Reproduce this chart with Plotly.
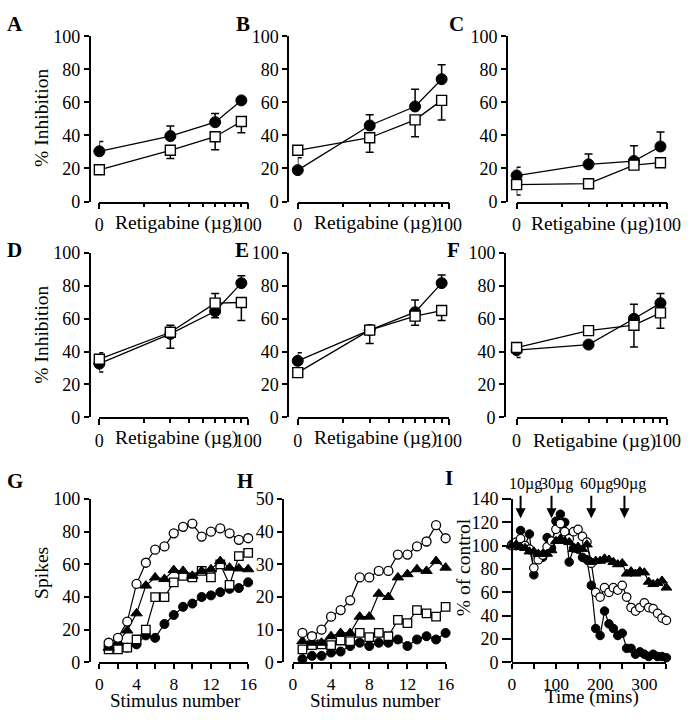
import plotly.graph_objects as go

W, H = 695, 720
FONT = "Liberation Serif"

# ---------------- data ----------------
doses = [10, 30, 60, 90]          # retigabine doses (µg); first point sits at the "0" tick
dose_tickvals = [10, 100]
dose_ticktext = ["0", "100"]
dose_minor = [20, 30, 40, 50, 60, 70, 80, 90]
inhib_ticks = [0, 20, 40, 60, 80, 100]

A_filled = [30.4, 39.6, 48.0, 61.2]
A_filled_up = [5.9, 6.1, 5.3, 0.8]
A_filled_dn = [0, 0, 0, 0]
A_open = [19.2, 31.0, 39.2, 48.4]
A_open_up = [0, 0, 0, 0]
A_open_dn = [0, 5.0, 7.8, 6.8]

B_filled = [19.0, 46.0, 57.5, 74.0]
B_filled_up = [7.5, 6.5, 10.5, 8.7]
B_filled_dn = [0, 0, 0, 0]
B_open = [31.0, 38.6, 49.4, 61.2]
B_open_up = [0, 0, 0, 0]
B_open_dn = [0, 8.8, 10.2, 11.8]

C_filled = [15.7, 22.5, 24.5, 33.3]
C_filled_up = [5.0, 6.3, 9.2, 8.7]
C_filled_dn = [0, 0, 0, 0]
C_open = [10.2, 10.8, 22.0, 23.5]
C_open_up = [0, 0, 0, 0]
C_open_dn = [6.2, 0, 0, 0]

D_filled = [32.7, 50.8, 64.6, 81.7]
D_filled_up = [0, 0, 0, 4.5]
D_filled_dn = [5.1, 8.8, 4.0, 0]
D_open = [35.4, 51.8, 69.5, 69.9]
D_open_up = [4.0, 4.3, 5.9, 0]
D_open_dn = [0, 0, 0, 10.9]

E_filled = [34.4, 53.1, 64.0, 81.7]
E_filled_up = [5.0, 0, 7.5, 4.9]
E_filled_dn = [0, 0, 0, 0]
E_open = [27.2, 53.1, 61.6, 65.0]
E_open_up = [0, 3.0, 0, 0]
E_open_dn = [0, 8.2, 5.5, 6.0]

F_filled = [40.9, 44.3, 60.0, 69.5]
F_filled_up = [0, 0, 8.9, 5.9]
F_filled_dn = [4.5, 0, 0, 0]
F_open = [42.5, 52.8, 56.1, 63.6]
F_open_up = [0, 0, 0, 0]
F_open_dn = [0, 0, 13.2, 9.3]

stimulus = list(range(1, 17))
stim_tickvals = [0, 2, 4, 6, 8, 10, 12, 14, 16]
stim_ticktext = ["0", "", "4", "", "8", "", "12", "", "16"]

G_open_circle = [12, 15, 25, 48, 61, 69, 71, 79, 83, 85, 77, 80, 82, 79, 75, 76]
G_triangle = [9, 12.5, 19.5, 30, 47, 52, 51, 56.5, 56, 53, 56, 57, 62, 58, 57.5, 57]
G_open_square = [8, 8, 9, 14, 20, 40, 40, 49, 53, 52, 56, 52, 60, 47.5, 65, 67]
G_filled_circle = [10, 10, 9, 11, 16.5, 15, 23.5, 29, 34, 36, 40, 41, 43, 45, 45.5, 49]
G_yticks = [0, 20, 40, 60, 80, 100]

H_open_circle = [9, 8, 10, 14, 16, 19, 26, 26, 28, 28, 33, 33, 35.5, 37, 42, 38]
H_triangle = [6.5, 6, 6, 8, 9, 9, 14, 14, 21, 20, 26, 27, 28.5, 28, 31, 29]
H_open_square = [4, 5.3, 5.5, 5.3, 6.7, 6.5, 9, 7.7, 9, 8, 13, 12, 16, 15, 14, 17]
H_filled_circle = [1, 2, 2, 3, 3.3, 5, 6, 5, 6, 6, 7, 5, 7, 8, 7, 9]
H_yticks = [0, 10, 20, 30, 40, 50]

time_mins = list(range(0, 351, 10))
I_filled_circle = [101, 100, 113, 100, 110, 75, 90, 90, 107, 98, 121, 127, 120, 86, 98, 97,
                   90, 88, 66, 29, 23, 44, 33, 29, 23, 25, 12, 12, 7, 9, 7, 5, 7, 5, 5, 4]
I_open_circle = [100, 103, 106, 100, 97, 81, 88, 92, 99, 104, 114, 119, 112, 106, 112, 114,
                 108, 103, 85, 60, 56, 64, 60, 64, 62, 66, 56, 47, 44, 47, 51, 47, 46, 42, 38, 36]
I_triangle = [100, 101, 99, 98, 95, 95, 93, 93, 93, 96, 104, 106, 104, 103, 97, 99,
              97, 101, 86, 87, 87, 89, 88, 86, 84, 85, 76, 78, 76, 78, 77, 69, 67, 68, 70, 64]
I_yticks = [0, 20, 40, 60, 80, 100, 120, 140]
I_xtickvals = [0, 50, 100, 150, 200, 250, 300, 350]
I_xticktext = ["0", "", "100", "", "200", "", "300", ""]
I_dose_times = [20, 90, 180, 255]
I_dose_labels = ["10µg", "30µg", "60µg", "90µg"]

# ---------------- helpers ----------------
def fx(px):
    return px / W

def fy(py):
    return 1 - py / H

fig = go.Figure()
layout = dict(
    width=W, height=H, margin=dict(l=0, r=0, t=0, b=0),
    paper_bgcolor="white", plot_bgcolor="white", showlegend=False,
    font=dict(family=FONT, size=18, color="black"),
)
annotations = []

def add_axes(i, yaxis_px, x0_px, x1_px, ytop_px, ybot_px, xaxis_extra, yaxis_extra):
    xa = dict(domain=[fx(x0_px), fx(x1_px)], anchor="y%d" % i if i > 1 else "y",
              showline=True, linewidth=1.5, linecolor="black", ticks="outside",
              ticklen=6, tickwidth=1.5, tickcolor="black", showgrid=False,
              zeroline=False, tickfont=dict(family=FONT, size=18, color="black"))
    xa.update(xaxis_extra)
    ya = dict(domain=[fy(ybot_px), fy(ytop_px)], anchor="free", position=fx(yaxis_px),
              showline=True, linewidth=1.5, linecolor="black", ticks="outside",
              ticklen=5, tickwidth=1.5, tickcolor="black", showgrid=False,
              zeroline=False, tickfont=dict(family=FONT, size=18, color="black"))
    ya.update(yaxis_extra)
    sfx = "" if i == 1 else str(i)
    layout["xaxis" + sfx] = xa
    layout["yaxis" + sfx] = ya

def ref(i):
    return ("x", "y") if i == 1 else ("x%d" % i, "y%d" % i)

def dose_panel(i, filled, f_up, f_dn, opn, o_up, o_dn):
    xr, yr = ref(i)
    fig.add_trace(go.Scatter(
        x=doses, y=filled, xaxis=xr, yaxis=yr, mode="lines+markers", cliponaxis=False,
        line=dict(color="black", width=1.3),
        marker=dict(symbol="circle", size=11, color="black", line=dict(color="black", width=1)),
        error_y=dict(type="data", symmetric=False, array=f_up, arrayminus=f_dn,
                     color="black", thickness=1.5, width=4)))
    fig.add_trace(go.Scatter(
        x=doses, y=opn, xaxis=xr, yaxis=yr, mode="lines+markers", cliponaxis=False,
        line=dict(color="black", width=1.3),
        marker=dict(symbol="square", size=10, color="white", line=dict(color="black", width=1.4)),
        error_y=dict(type="data", symmetric=False, array=o_up, arrayminus=o_dn,
                     color="black", thickness=1.5, width=4)))

dose_x = dict(type="log", range=[1, 2], tickvals=dose_tickvals, ticktext=dose_ticktext,
              minor=dict(tickvals=dose_minor, ticks="outside", ticklen=4, tickwidth=1.5,
                         tickcolor="black"))
dose_y = dict(range=[0, 100], tickvals=inhib_ticks)

# rows: (ytop, ybot)
row1 = (27, 197)
row2 = (250, 419)
row3 = (503, 671)

panels = [
    (1, 87, 97, 250, row1, A_filled, A_filled_up, A_filled_dn, A_open, A_open_up, A_open_dn),
    (2, 291, 301, 456, row1, B_filled, B_filled_up, B_filled_dn, B_open, B_open_up, B_open_dn),
    (3, 516, 526, 681, row1, C_filled, C_filled_up, C_filled_dn, C_open, C_open_up, C_open_dn),
    (4, 87, 97, 250, row2, D_filled, D_filled_up, D_filled_dn, D_open, D_open_up, D_open_dn),
    (5, 291, 301, 456, row2, E_filled, E_filled_up, E_filled_dn, E_open, E_open_up, E_open_dn),
    (6, 514, 526, 681, row2, F_filled, F_filled_up, F_filled_dn, F_open, F_open_up, F_open_dn),
]
for (i, yax, x0, x1, (yt, yb), fl, fu, fd, op, ou, od) in panels:
    add_axes(i, yax, x0, x1, yt, yb, dose_x, dose_y)
    dose_panel(i, fl, fu, fd, op, ou, od)

# ---- G & H ----
def stim_panel(i, fc, sq, tri, oc):
    xr, yr = ref(i)
    common = dict(x=stimulus, xaxis=xr, yaxis=yr, mode="lines+markers", cliponaxis=False,
                  line=dict(color="black", width=1.2))
    fig.add_trace(go.Scatter(y=fc, **common,
        marker=dict(symbol="circle", size=9, color="black", line=dict(color="black", width=1))))
    fig.add_trace(go.Scatter(y=sq, **common,
        marker=dict(symbol="square", size=8.5, color="white", line=dict(color="black", width=1.3))))
    fig.add_trace(go.Scatter(y=tri, **common,
        marker=dict(symbol="triangle-up", size=10, color="black", line=dict(color="black", width=1))))
    fig.add_trace(go.Scatter(y=oc, **common,
        marker=dict(symbol="circle", size=9, color="white", line=dict(color="black", width=1.3))))

stim_x = dict(range=[0, 16], tickvals=stim_tickvals, ticktext=stim_ticktext, ticklen=5,
              tickfont=dict(family=FONT, size=17.5, color="black"))
add_axes(7, 87, 97, 250, row3[0], row3[1], stim_x, dict(range=[0, 100], tickvals=G_yticks))
stim_panel(7, G_filled_circle, G_open_square, G_triangle, G_open_circle)
add_axes(8, 286, 296, 453, row3[0], row3[1], stim_x, dict(range=[0, 50], tickvals=H_yticks))
stim_panel(8, H_filled_circle, H_open_square, H_triangle, H_open_circle)

# ---- I ----
add_axes(9, 521, 521, 680, row3[0], row3[1],
         dict(range=[0, 350], tickvals=I_xtickvals, ticktext=I_xticktext, ticklen=5,
              tickfont=dict(family=FONT, size=17.5, color="black")),
         dict(range=[0, 140], tickvals=I_yticks, ticklen=9))
common = dict(x=time_mins, xaxis="x9", yaxis="y9", mode="lines+markers", cliponaxis=False,
              line=dict(color="black", width=1.2))
fig.add_trace(go.Scatter(y=I_filled_circle, **common,
    marker=dict(symbol="circle", size=8.5, color="black", line=dict(color="black", width=1))))
fig.add_trace(go.Scatter(y=I_open_circle, **common,
    marker=dict(symbol="circle", size=8.5, color="white", line=dict(color="black", width=1.2))))
fig.add_trace(go.Scatter(y=I_triangle, **common,
    marker=dict(symbol="triangle-up", size=9.5, color="black", line=dict(color="black", width=1))))

# dose arrows and labels
for t, lab in zip(I_dose_times, I_dose_labels):
    annotations.append(dict(x=t, y=123.5, xref="x9", yref="y9", text="", showarrow=True,
                            ax=0, ay=-24, arrowhead=2, arrowsize=1, arrowwidth=2,
                            arrowcolor="black", standoff=0))
    annotations.append(dict(x=t, y=fy(488), xref="x9", yref="paper", text=lab,
                            showarrow=False, xanchor="center", yanchor="middle", xshift=5,
                            font=dict(family=FONT, size=16, color="black")))

# ---------------- text annotations ----------------
def txt(px, py, s, size=19.5, angle=0, xanchor="center", yanchor="middle"):
    annotations.append(dict(x=fx(px), y=fy(py), xref="paper", yref="paper", text=s,
                            showarrow=False, textangle=angle, xanchor=xanchor, yanchor=yanchor,
                            font=dict(family=FONT, size=size, color="black")))

# panel letters
for (lx, ly, s) in [(0, 0, "A"), (235, 0, "B"), (454, 0, "C"),
                    (0, 232, "D"), (234, 232, "E"), (452, 232, "F"),
                    (0, 470, "G"), (236, 470, "H"), (450, 467, "I")]:
    txt(lx, ly, "<b>%s</b>" % s, size=21, xanchor="left", yanchor="top")

# y titles
txt(38, 111, "% Inhibition", angle=-90)
txt(38, 334, "% Inhibition", angle=-90)
txt(38, 579, "Spikes", angle=-90)
txt(471, 573, "% of control", angle=-90)

# x titles
for (cx, cy) in [(176, 219), (381, 219), (604, 220), (176, 440), (381, 440), (606, 443)]:
    txt(cx, cy, "Retigabine (µg)")
txt(175, 710, "Stimulus number", size=19)
txt(381, 710, "Stimulus number", size=19)
txt(604, 707, "Time (mins)", size=19)

layout["annotations"] = annotations
fig.update_layout(**layout)
fig.write_html("out.html", config={"displayModeBar": False},
               post_script="document.body.style.margin='0';document.body.style.overflow='hidden';")
